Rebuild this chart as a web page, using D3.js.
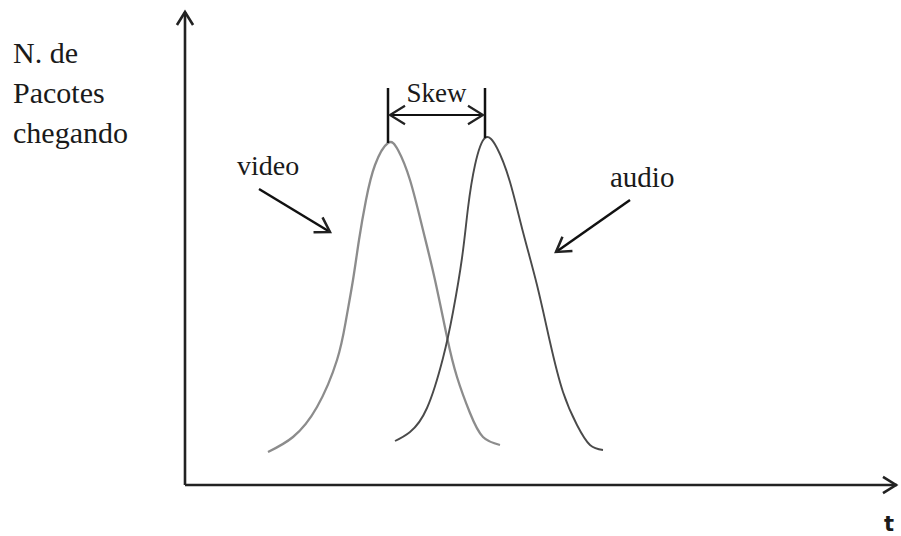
<!DOCTYPE html>
<html>
<head>
<meta charset="utf-8">
<script src="https://cdn.jsdelivr.net/npm/d3@7"></script>
<style>
  body { margin: 0; background: #fff; }
  text { font-family: "Liberation Serif", "DejaVu Serif", serif; fill: #1a1a1a; }
</style>
</head>
<body>
<svg id="chart" width="901" height="536"></svg>
<script>
// curve points (t, packets)
var videoT = [41.5, 54, 66, 76, 80.5, 84, 87, 90.5, 95, 101.5, 106.5, 112.5, 119, 125, 131, 136, 142.5, 149, 157.5];
var videoN = [16.5, 24, 39, 62.5, 82.5, 102.5, 122.5, 142.5, 160, 171, 167.5, 152.5, 127.5, 102.5, 74, 54, 36, 24, 20];
var audioT = [105, 112.5, 121, 129, 134, 138.5, 141.5, 145, 150, 156, 162.5, 169, 176, 182.5, 189, 196, 202.5, 209];
var audioN = [22, 26.5, 38.5, 63.5, 86.5, 113.5, 138.5, 160, 173.5, 168.5, 151.5, 126.5, 100, 71.5, 46.5, 30, 20, 17.5];
var yLabel = ["N. de", "Pacotes", "chegando"];

var svg = d3.select("#chart");

var x = d3.scaleLinear().domain([0, 356]).range([185, 897]);
var y = d3.scaleLinear().domain([0, 235]).range([485, 15]);

// axes
svg.append("line")
    .attr("x1", x(0)).attr("x2", x(0))
    .attr("y1", y(0)).attr("y2", y(236.5))
    .attr("stroke", "#222").attr("stroke-width", 2.6);
svg.append("line")
    .attr("x1", x(0)).attr("x2", x(356))
    .attr("y1", y(0)).attr("y2", y(0))
    .attr("stroke", "#222").attr("stroke-width", 2.6);

function chevron(px, py, angle, size, sw) {
  // open arrow head pointing along angle (degrees)
  svg.append("path")
    .attr("d", "M" + (-size) + "," + (-size * 0.62) + "L0,0L" + (-size) + "," + (size * 0.62))
    .attr("transform", "translate(" + px + "," + py + ")rotate(" + angle + ")")
    .attr("fill", "none").attr("stroke", "#222")
    .attr("stroke-width", sw).attr("stroke-linejoin", "miter");
}
chevron(x(0), y(236.5), -90, 13, 2.6);
chevron(x(356) - 1, y(0), 0, 13, 2.6);

// curves
var line = d3.line()
    .x(function(d) { return x(d[0]); })
    .y(function(d) { return y(d[1]); })
    .curve(d3.curveNatural);

svg.append("path")
    .datum(d3.zip(videoT, videoN))
    .attr("d", line)
    .attr("fill", "none").attr("stroke", "#8c8c8c").attr("stroke-width", 2.3);

svg.append("path")
    .datum(d3.zip(audioT, audioN))
    .attr("d", line)
    .attr("fill", "none").attr("stroke", "#4a4a4a").attr("stroke-width", 1.9);

// skew marker between the peaks
var vPeak = videoT[d3.maxIndex(videoN)], aPeak = audioT[d3.maxIndex(audioN)];
[[vPeak, d3.max(videoN)], [aPeak, d3.max(audioN)]].forEach(function(p) {
  svg.append("line")
    .attr("x1", x(p[0])).attr("x2", x(p[0]))
    .attr("y1", y(198.5)).attr("y2", y(p[1]))
    .attr("stroke", "#111").attr("stroke-width", 2.5);
});
svg.append("line")
    .attr("x1", x(vPeak) + 2).attr("x2", x(aPeak) - 2)
    .attr("y1", y(185)).attr("y2", y(185))
    .attr("stroke", "#111").attr("stroke-width", 2.2);
chevron(x(vPeak) + 2, y(185), 180, 15, 2.2);
chevron(x(aPeak) - 2, y(185), 0, 15, 2.2);
svg.append("text")
    .attr("x", (x(vPeak) + x(aPeak)) / 2).attr("y", 102)
    .attr("text-anchor", "middle")
    .style("font-size", "27px")
    .text("Skew");

// labels with pointers
svg.append("text").attr("x", 237).attr("y", 175).style("font-size", "28px").text("video");
svg.append("line").attr("x1", 259).attr("y1", 189).attr("x2", 330).attr("y2", 232)
    .attr("stroke", "#111").attr("stroke-width", 2.5);
chevron(330, 232, Math.atan2(43, 71) * 180 / Math.PI, 14, 2.5);

svg.append("text").attr("x", 610).attr("y", 187).style("font-size", "29px").text("audio");
svg.append("line").attr("x1", 630).attr("y1", 200).attr("x2", 556).attr("y2", 252)
    .attr("stroke", "#111").attr("stroke-width", 2.5);
chevron(556, 252, Math.atan2(52, -74) * 180 / Math.PI, 14, 2.5);

// axis labels
svg.append("g").selectAll("text")
    .data(yLabel)
    .join("text")
    .attr("x", 13)
    .attr("y", function(d, i) { return 63 + i * 40; })
    .style("font-size", "30px")
    .text(function(d) { return d; });

svg.append("text")
    .attr("x", 884).attr("y", 531)
    .style("font-family", "'DejaVu Sans', sans-serif")
    .style("font-size", "21px")
    .style("font-weight", "bold")
    .text("t");
</script>
</body>
</html>
